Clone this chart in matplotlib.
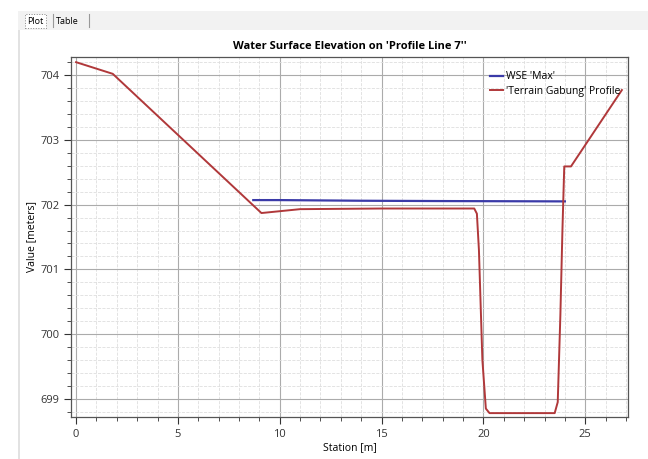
import matplotlib.pyplot as plt
from matplotlib.ticker import MultipleLocator
from matplotlib.patches import Rectangle

# data
terrain_station = [0.0, 1.8, 9.1, 11.0, 15.0, 19.55, 19.68, 19.78, 19.95, 20.12, 20.3,
                   23.5, 23.65, 23.78, 23.88, 23.97, 24.3, 26.8]
terrain_elev = [704.2, 704.02, 701.87, 701.93, 701.94, 701.94, 701.86, 701.3, 699.6, 698.85, 698.78,
                698.78, 698.95, 700.3, 701.6, 702.59, 702.59, 703.77]
wse_station = [8.7, 10.0, 14.0, 18.0, 24.0]
wse_elev = [702.07, 702.07, 702.06, 702.055, 702.05]

title = "Water Surface Elevation on 'Profile Line 7''"
x_label = "Station [m]"
y_label = "Value [meters]"

plt.rcParams['font.family'] = ['Open Sans', 'DejaVu Sans']

fig = plt.figure(figsize=(6.48, 4.59), dpi=100)
fig.patch.set_facecolor('white')

# window chrome: tab strip and left frame
fig.patches.append(Rectangle((18 / 648, 1 - 30 / 459), 1, 19 / 459, transform=fig.transFigure,
                             facecolor='#f2f2f2', edgecolor='none', zorder=0))
fig.patches.append(Rectangle((18 / 648, 0), 1.5 / 648, 1 - 30 / 459, transform=fig.transFigure,
                             facecolor='#e2e2e2', edgecolor='none', zorder=0))
fig.text(27 / 648, 1 - 21 / 459, "Plot", fontsize=6.5, va='center', ha='left',
         bbox=dict(boxstyle='square,pad=0.25', facecolor='white', edgecolor='#888888', linestyle=':', linewidth=0.7))
fig.text(56 / 648, 1 - 21 / 459, "Table", fontsize=6.5, va='center', ha='left')
fig.lines.append(plt.Line2D([53 / 648, 53 / 648], [1 - 27 / 459, 1 - 14 / 459], transform=fig.transFigure,
                            color='#999999', linewidth=0.8))
fig.lines.append(plt.Line2D([89 / 648, 89 / 648], [1 - 27 / 459, 1 - 14 / 459], transform=fig.transFigure,
                            color='#999999', linewidth=0.8))

ax = fig.add_axes([71 / 648, 42 / 459, 557 / 648, 360 / 459])
ax.plot(wse_station, wse_elev, color='#3a3aa8', linewidth=1.6, label="WSE 'Max'")
ax.plot(terrain_station, terrain_elev, color='#b0383a', linewidth=1.4, label="'Terrain Gabung' Profile")

ax.set_xlim(-0.25, 27.1)
ax.set_ylim(698.72, 704.28)
ax.xaxis.set_major_locator(MultipleLocator(5))
ax.xaxis.set_minor_locator(MultipleLocator(1))
ax.yaxis.set_major_locator(MultipleLocator(1))
ax.yaxis.set_minor_locator(MultipleLocator(0.2))
ax.grid(which='major', color='#ababab', linewidth=0.8)
ax.grid(which='minor', color='#dedede', linewidth=0.6, linestyle='--')
ax.set_axisbelow(True)
ax.tick_params(which='both', direction='out', colors='#333333', labelsize=8)
ax.tick_params(which='major', length=5)
ax.tick_params(which='minor', length=3)
for s in ax.spines.values():
    s.set_color('#555555')
    s.set_linewidth(0.9)

ax.set_title(title, fontsize=8, fontweight='bold', pad=6)
ax.set_xlabel(x_label, fontsize=7.5, labelpad=2)
ax.set_ylabel(y_label, fontsize=7.5, labelpad=2)
ax.legend(loc='upper right', bbox_to_anchor=(1.0, 0.98), frameon=False, fontsize=7.5,
          handlelength=1.3, handletextpad=0.3, labelspacing=0.3, borderaxespad=0.3)

fig.savefig('out.png', dpi=100)
